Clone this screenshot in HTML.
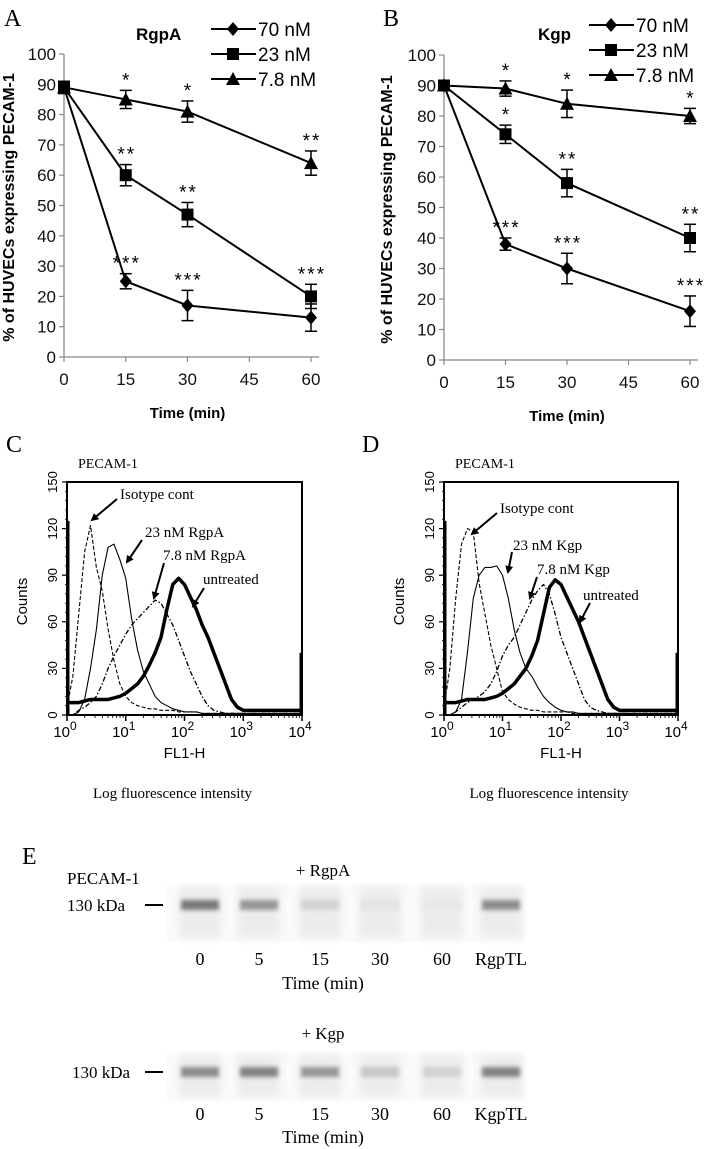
<!DOCTYPE html>
<html><head><meta charset="utf-8"><style>
html,body{margin:0;padding:0;background:#fff}
svg{display:block}
.ar{font-family:"Liberation Sans",Arial,sans-serif}
.tm{font-family:"Liberation Serif","Times New Roman",serif}
</style></head><body>
<svg id="fig" width="713" height="1149" viewBox="0 0 713 1149" xmlns="http://www.w3.org/2000/svg">
<defs>
<filter id="blur2" x="-20%" y="-50%" width="140%" height="200%"><feGaussianBlur stdDeviation="2.2"/></filter>
<filter id="blur4" x="-20%" y="-50%" width="140%" height="200%"><feGaussianBlur stdDeviation="4"/></filter>
<marker id="ah" markerWidth="8" markerHeight="8" refX="6" refY="4" orient="auto" markerUnits="userSpaceOnUse"><path d="M0,0 L8,4 L0,8 Z" fill="#000"/></marker>
</defs>
<g id="gA"></g>
<g id="gB"></g>
<g id="gC"></g>
<g id="gD"></g>
<g id="gE"></g>
</svg>
<script>
// ---------- data: time course ----------
const times = [0, 15, 30, 60];
const xTicks = [0, 15, 30, 45, 60];
const yTicks = [0,10,20,30,40,50,60,70,80,90,100];
const seriesNames = ["70 nM", "23 nM", "7.8 nM"];
const rgpA70 = [89, 25, 17, 13];
const rgpA70Err = [2, 2.5, 5, 4.5];
const rgpA23 = [89, 60, 47, 20];
const rgpA23Err = [2, 3.5, 4, 4];
const rgpA78 = [89, 85, 81, 64];
const rgpA78Err = [2, 3, 3.5, 4];
const rgpA70Stars = ["", "***", "***", ""];
const rgpA23Stars = ["", "**", "**", "***"];
const rgpA78Stars = ["", "*", "*", "**"];
const kgp70 = [90, 38, 30, 16];
const kgp70Err = [1.5, 2, 5, 5];
const kgp23 = [90, 74, 58, 40];
const kgp23Err = [1.5, 3, 4.5, 4.5];
const kgp78 = [90, 89, 84, 80];
const kgp78Err = [1.5, 2.5, 4.5, 2.5];
const kgp70Stars = ["", "***", "***", "***"];
const kgp23Stars = ["", "*", "**", "**"];
const kgp78Stars = ["", "*", "*", "*"];

// ---------- data: flow histograms (log10 FL1-H from 0 to 4 step 0.1) ----------
const logBins = [0,0.1,0.2,0.3,0.4,0.5,0.6,0.7,0.8,0.9,1,1.1,1.2,1.3,1.4,1.5,1.6,1.7,1.8,1.9,2,2.1,2.2,2.3,2.4,2.5,2.6,2.7,2.8,2.9,3,3.1,3.2,3.3,3.4,3.5,3.6,3.7,3.8,3.9,4];
const histTicks = [0,30,60,90,120,150];
const cIsotype = [5,25,65,105,122,95,80,55,35,20,12,8,6,5,4,4,3,3,3,2,2,2,2,1,1,1,1,1,1,1,1,1,1,1,1,1,1,1,1,1,1];
const c23 = [0,0,2,10,30,55,90,108,110,100,88,62,42,28,20,12,8,6,4,3,2,2,2,1,1,1,1,1,1,1,1,1,1,1,1,1,1,1,1,1,1];
const c78 = [0,0,3,5,8,12,20,30,38,45,52,58,62,66,70,74,72,65,58,48,38,28,20,12,6,3,2,1,1,1,1,1,1,1,1,1,1,1,1,1,1];
const cUntreated = [8,8,8,9,10,10,10,10,11,12,14,17,20,25,32,40,50,68,84,88,84,76,68,58,50,40,30,20,10,5,3,3,3,3,3,3,3,3,3,3,3];
const dIsotype = [5,30,75,110,120,118,85,65,45,30,15,10,7,5,4,3,3,2,2,2,2,2,1,1,1,1,1,1,1,1,1,1,1,1,1,1,1,1,1,1,1];
const d23 = [0,0,2,10,40,75,90,95,95,96,90,75,55,40,30,25,18,12,8,5,3,2,2,1,1,1,1,1,1,1,1,1,1,1,1,1,1,1,1,1,1];
const d78 = [0,0,2,5,8,10,12,15,20,28,38,45,50,58,66,74,80,84,78,65,50,40,30,20,10,5,3,2,1,1,1,1,1,1,1,1,1,1,1,1,1];
const dUntreated = [8,8,8,9,10,10,10,10,11,12,14,17,20,25,30,38,48,65,82,87,84,76,68,60,50,40,30,20,10,5,3,3,3,3,3,3,3,3,3,3,3];

// ---------- data: blots ----------
const laneLabelsR = ["0","5","15","30","60","RgpTL"];
const laneLabelsK = ["0","5","15","30","60","KgpTL"];
const bandR = [0.6, 0.45, 0.15, 0.06, 0.04, 0.5];
const bandK = [0.5, 0.55, 0.45, 0.2, 0.15, 0.55];

const NS = "http://www.w3.org/2000/svg";
function mk(parent, tag, attrs, text){
  const e = document.createElementNS(NS, tag);
  for (const k in attrs) e.setAttribute(k, attrs[k]);
  if (text !== undefined) e.textContent = text;
  parent.appendChild(e);
  return e;
}

function marker(g, shape, cx, cy){
  let m;
  if (shape === 0) m = mk(g, "polygon", {points:`${cx},${cy-7} ${cx+6},${cy} ${cx},${cy+7} ${cx-6},${cy}`, fill:"#000"});
  else if (shape === 1) m = mk(g, "rect", {x:cx-6, y:cy-6, width:12, height:12, fill:"#000"});
  else m = mk(g, "polygon", {points:`${cx},${cy-7} ${cx+7},${cy+6} ${cx-7},${cy+6}`, fill:"#000"});
  
  
  return m;
}

function lineChart(g, cfg){
  const sx = v => cfg.x0 + (v/60)*(cfg.x1-cfg.x0);
  const sy = v => cfg.y0 - (v/100)*(cfg.y0-cfg.y1);
  const t = mk(g, "text", {x:cfg.letterX, y:26, class:"tm", "font-size":24}, cfg.letter);
   
  const tt = mk(g, "text", {x:cfg.titleX, y:40, class:"ar", "font-size":17, "font-weight":"bold"}, cfg.title);
   
  const ax = mk(g, "line", {x1:cfg.x0, y1:cfg.y1, x2:cfg.x0, y2:cfg.y0, stroke:"#888", "stroke-width":1.3});
   
  const axx = mk(g, "line", {x1:cfg.x0, y1:cfg.y0, x2:cfg.x1+8, y2:cfg.y0, stroke:"#888", "stroke-width":1.3});
   
  yTicks.forEach(v => {
    mk(g, "line", {x1:cfg.x0-5, y1:sy(v), x2:cfg.x0, y2:sy(v), stroke:"#888", "stroke-width":1.2});
    const l = mk(g, "text", {x:cfg.x0-8, y:sy(v)+6, class:"ar", "font-size":17, "text-anchor":"end", fill:"#111"}, String(v));
     
  });
  xTicks.forEach(v => {
    mk(g, "line", {x1:sx(v), y1:cfg.y0, x2:sx(v), y2:cfg.y0+5, stroke:"#888", "stroke-width":1.2});
    const l = mk(g, "text", {x:sx(v), y:cfg.y0+28, class:"ar", "font-size":17, "text-anchor":"middle", fill:"#111"}, String(v));
     
  });
  const xt = mk(g, "text", {x:(cfg.x0+cfg.x1)/2, y:cfg.y0+61, class:"ar", "font-size":15, "font-weight":"bold", "text-anchor":"middle"}, "Time (min)");
   
  const yt = mk(g, "text", {x:0, y:0, class:"ar", "font-size":16, "font-weight":"bold", "text-anchor":"middle", transform:`translate(${cfg.yTitleX},${(cfg.y0+cfg.y1)/2+2}) rotate(-90)`}, "% of HUVECs expressing PECAM-1");
   
  cfg.series.forEach((s, si) => {
    const sg = mk(g, "g", {});
    
    
    const pts = s.vals.map((v,i) => `${sx(times[i])},${sy(v)}`).join(" ");
    mk(sg, "polyline", {points:pts, fill:"none", stroke:"#000", "stroke-width":2});
    s.vals.forEach((v,i) => {
      const x = sx(times[i]), e = s.err[i];
      mk(sg, "line", {x1:x, y1:sy(v+e), x2:x, y2:sy(v-e), stroke:"#000", "stroke-width":1.5});
      mk(sg, "line", {x1:x-6, y1:sy(v+e), x2:x+6, y2:sy(v+e), stroke:"#000", "stroke-width":1.5});
      mk(sg, "line", {x1:x-6, y1:sy(v-e), x2:x+6, y2:sy(v-e), stroke:"#000", "stroke-width":1.5});
      marker(sg, si, x, sy(v));
      if (s.stars[i]) {
        const st = mk(sg, "text", {x:x+1, y:sy(v+e)-4, class:"ar", "font-size":19, "text-anchor":"middle", "letter-spacing":"2"}, s.stars[i]);
         
      }
    });
  });
  seriesNames.forEach((n, i) => {
    const ly = cfg.legY + i*25;
    const lg = mk(g, "g", {});
     
    mk(lg, "line", {x1:cfg.legX, y1:ly, x2:cfg.legX+45, y2:ly, stroke:"#000", "stroke-width":2});
    marker(lg, i, cfg.legX+22, ly);
    mk(lg, "text", {x:cfg.legX+47, y:ly+7, class:"ar", "font-size":19}, n);
  });
}

lineChart(document.getElementById("gA"), {letter:"A", letterX:4, title:"RgpA", titleX:136, x0:64, x1:311, y0:357, y1:54, yTitleX:14, legX:211, legY:29,
  series:[{vals:rgpA70, err:rgpA70Err, stars:rgpA70Stars},{vals:rgpA23, err:rgpA23Err, stars:rgpA23Stars},{vals:rgpA78, err:rgpA78Err, stars:rgpA78Stars}]});
lineChart(document.getElementById("gB"), {letter:"B", letterX:383, title:"Kgp", titleX:538, x0:444, x1:690, y0:360, y1:55, yTitleX:392, legX:589, legY:25,
  series:[{vals:kgp70, err:kgp70Err, stars:kgp70Stars},{vals:kgp23, err:kgp23Err, stars:kgp23Stars},{vals:kgp78, err:kgp78Err, stars:kgp78Stars}]});

function histChart(g, cfg){
  const sx = v => cfg.x0 + (v/4)*(cfg.x1-cfg.x0);
  const sy = v => cfg.y0 - (v/150)*(cfg.y0-cfg.y1);
  const L = mk(g, "text", {x:cfg.letterX, y:452, class:"tm", "font-size":24}, cfg.letter);
   
  const p = mk(g, "text", {x:cfg.x0+11, y:468, class:"tm", "font-size":14}, "PECAM-1");
   
  const box = mk(g, "rect", {x:cfg.x0, y:cfg.y1, width:cfg.x1-cfg.x0, height:cfg.y0-cfg.y1, fill:"none", stroke:"#000", "stroke-width":2});
   
  histTicks.forEach(v => {
    mk(g, "line", {x1:cfg.x0-5, y1:sy(v), x2:cfg.x0, y2:sy(v), stroke:"#000", "stroke-width":1.2});
    const l = mk(g, "text", {x:0, y:0, class:"ar", "font-size":13, "text-anchor":"middle", transform:`translate(${cfg.x0-10},${sy(v)}) rotate(-90)`}, String(v));
     
  });
  for (let v = 0; v <= 150; v += 6) mk(g, "line", {x1:cfg.x0-2, y1:sy(v), x2:cfg.x0, y2:sy(v), stroke:"#000", "stroke-width":0.8});
  for (let d = 0; d < 4; d++) for (let k = 2; k <= 9; k++) {
    const x = sx(d + Math.log10(k));
    mk(g, "line", {x1:x, y1:cfg.y0, x2:x, y2:cfg.y0+3, stroke:"#000", "stroke-width":0.9});
  }
  for (let d = 0; d <= 4; d++) {
    mk(g, "line", {x1:sx(d), y1:cfg.y0, x2:sx(d), y2:cfg.y0+6, stroke:"#000", "stroke-width":1.5});
    const t = mk(g, "text", {x:sx(d)-2, y:cfg.y0+22, class:"ar", "font-size":15, "text-anchor":"middle"});
     
    t.textContent = "10";
    mk(t, "tspan", {dy:-7, "font-size":12}, String(d));
  }
  const xt = mk(g, "text", {x:(cfg.x0+cfg.x1)/2, y:cfg.y0+43, class:"ar", "font-size":15, "text-anchor":"middle"}, "FL1-H");
   
  const lf = mk(g, "text", {x:(cfg.x0+cfg.x1)/2-12, y:798, class:"tm", "font-size":15, "text-anchor":"middle"}, "Log fluorescence intensity");
   
  const yt = mk(g, "text", {x:0, y:0, class:"ar", "font-size":15, "text-anchor":"middle", transform:`translate(${cfg.x0-40},${(cfg.y0+cfg.y1)/2+3}) rotate(-90)`}, "Counts");
   
  const styles = [
    {d:"4,2", w:1.1}, {d:"", w:1.1}, {d:"5,2,1.5,2", w:1.3}, {d:"", w:3.5}
  ];
  const names = ["isotype-histogram","histogram-23nm","histogram-7-8nm","untreated-histogram"];
  cfg.series.forEach((s, si) => {
    const pts = s.map((v,i) => `${sx(logBins[i])},${sy(v)}`).join(" ");
    const pl = mk(g, "polyline", {points:pts, fill:"none", stroke:"#000", "stroke-width":styles[si].w, "stroke-dasharray":styles[si].d, "stroke-linejoin":"round"});
     
  });
  mk(g, "line", {x1:cfg.x0+1, y1:sy(0), x2:cfg.x0+1, y2:sy(125), stroke:"#000", "stroke-width":3});
  mk(g, "line", {x1:cfg.x1-1, y1:sy(0), x2:cfg.x1-1, y2:sy(40), stroke:"#000", "stroke-width":3});
  cfg.labels.forEach(l => {
    const t = mk(g, "text", {x:l[0], y:l[1], class:"tm", "font-size":15}, l[2]);
     
    mk(g, "line", {x1:l[3], y1:l[4], x2:l[5], y2:l[6], stroke:"#000", "stroke-width":2, "marker-end":"url(#ah)"});
  });
}
histChart(document.getElementById("gC"), {letter:"C", letterX:6, x0:67, x1:302, y0:715, y1:482,
  series:[cIsotype, c23, c78, cUntreated],
  labels:[[120,499,"Isotype cont",117,499,92,520],[145,537,"23 nM RgpA",142,540,127,562],[163,560,"7.8 nM RgpA",164,563,154,598],[203,584,"untreated",204,588,193,606]]});
histChart(document.getElementById("gD"), {letter:"D", letterX:362, x0:444, x1:678, y0:715, y1:482,
  series:[dIsotype, d23, d78, dUntreated],
  labels:[[500,513,"Isotype cont",497,513,472,534],[513,550,"23 nM Kgp",512,552,508,572],[537,574,"7.8 nM Kgp",537,577,530,598],[583,600,"untreated",590,603,580,622]]});

// ---------- panel E ----------
(function(){
  const g = document.getElementById("gE");
  const laneX = [200, 259, 320, 380, 442, 501];
  function blot(y0, y1, bandY, vals, labels, labY, title, titleY, timeY, pecam){
    const bg = mk(g, "rect", {x:167, y:y0, width:358, height:y1-y0, fill:"#fafafa"});
     
    vals.forEach((v, i) => {
      const c = Math.round(240 - 200*v);
      const lane = mk(g, "rect", {x:laneX[i]-21, y:y0+2, width:42, height:y1-y0-6, fill:"#ececec", filter:"url(#blur4)"});
       
      const b = mk(g, "rect", {x:laneX[i]-19, y:bandY-5, width:38, height:10, fill:`rgb(${c},${c},${c})`, filter:"url(#blur2)"});
       
      const t = mk(g, "text", {x:laneX[i], y:labY, class:"tm", "font-size":18, "text-anchor":"middle"}, labels[i]);
       
    });
    const tt = mk(g, "text", {x:323, y:titleY, class:"tm", "font-size":17, "text-anchor":"middle"}, title);
     
    const tm = mk(g, "text", {x:323, y:timeY, class:"tm", "font-size":18, "text-anchor":"middle"}, "Time (min)");
     
    const kd = mk(g, "text", {x:pecam?67:72, y:bandY+6, class:"tm", "font-size":17}, "130 kDa");
     
    mk(g, "line", {x1:145, y1:bandY, x2:163, y2:bandY, stroke:"#000", "stroke-width":2});
    if (pecam) {
      const p = mk(g, "text", {x:67, y:bandY-21, class:"tm", "font-size":17}, "PECAM-1");
       
    }
  }
  const E = mk(g, "text", {x:22, y:864, class:"tm", "font-size":24}, "E");
   
  blot(885, 942, 905, bandR, laneLabelsR, 965, "+ RgpA", 876, 989, true);
  blot(1053, 1101, 1072, bandK, laneLabelsK, 1120, "+ Kgp", 1039, 1143, false);
})();
</script>
</body></html>
